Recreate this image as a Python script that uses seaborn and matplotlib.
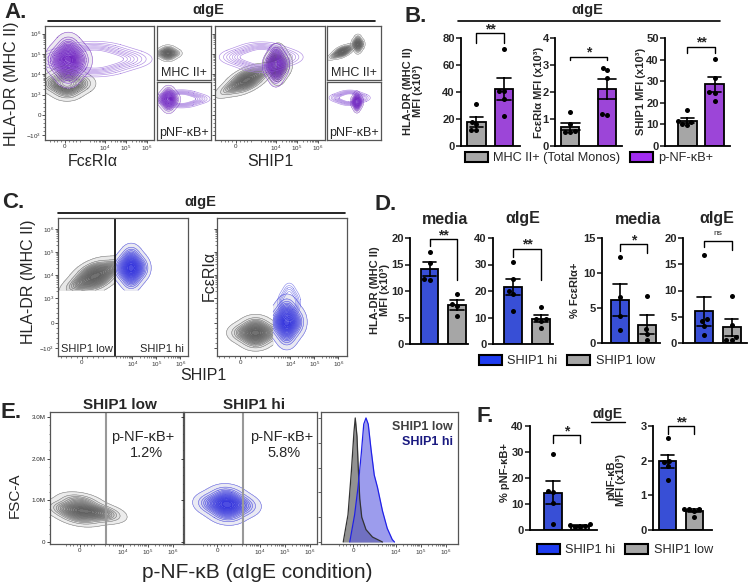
import numpy as np
import pandas as pd
import matplotlib
matplotlib.use("Agg")
import matplotlib.pyplot as plt
from matplotlib.patches import Patch
import seaborn as sns

# --- CONFIGURATION ---
W, H = 750, 583
GRAY_BAR = "#a6a6a6"
PURPLE_BAR = "#a12cf0"
BLUE_BAR = "#1e3cf0"
FLOW_GRAY = "#5f5f5f"
FLOW_PURPLE = "#6f22c0"
FLOW_BLUE = "#3535dd"
HALO_PURPLE = "#a77fe0"

# --- bar data (one list per group) ---
B_GROUPS = ["MHC II+ (Total Monos)", "p-NF-\u03baB+"]
B_HLA = [[31, 18, 16, 12, 12], [71.5, 41, 41, 35, 22]]
B_FCER = [[1.25, 0.8, 0.55, 0.5, 0.5], [2.9, 2.8, 2.5, 1.15, 1.2]]
B_SHIP = [[16.5, 11.5, 11, 10, 9.5], [40.5, 31.5, 24.5, 25, 21]]

D_GROUPS = ["SHIP1 hi", "SHIP1 low"]
D_HLA_MEDIA = [[17.3, 15.2, 12.2, 12.0], [9.5, 7.5, 7.2, 5.2]]
D_HLA_IGE = [[31, 24.5, 20, 19, 12.5], [14, 9.5, 9.3, 8.5, 6]]
D_FCER_MEDIA = [[12.3, 6.6, 3.8, 1.9], [6.7, 2.0, 1.3, 0.5]]
D_FCER_IGE = [[16.8, 4.5, 4.2, 3.3, 1.5], [8.9, 3.5, 1.2, 0.6, 0.6]]

F_PCT = [[29.3, 15, 14.5, 10.5, 2.3], [2.2, 2.0, 1.6, 1.2, 1.0]]
F_MFI = [[2.65, 2.0, 1.95, 1.85, 1.45], [0.62, 0.6, 0.6, 0.55, 0.38]]

# --- flow populations: anchor points in biexponential decade units ---
A1_GRAY_X = [0.1, -0.45, 0.65, 0.1, 0.1]
A1_GRAY_Y = [1.55, 1.55, 1.55, 1.2, 1.9]
A1_PURP_X = [0.16, -0.3, 0.62, 0.16, 0.16]
A1_PURP_Y = [2.7, 2.7, 2.7, 2.15, 3.25]
A1_HALO_X = [1.4, 0.3, 2.5, 1.4, 1.4]
A1_HALO_Y = [2.75, 2.75, 2.75, 2.4, 3.1]

A2_GRAY1_X = [0.5, -0.1, 1.1, 0.38, 0.62]
A2_GRAY1_Y = [1.72, 1.4, 2.04, 1.93, 1.51]
A2_GRAY2_X = [2.0, 1.72, 2.28, 2.0, 2.0]
A2_GRAY2_Y = [2.5, 2.5, 2.5, 2.08, 2.92]
A2_PURP_X = [1.9, 1.64, 2.16, 1.9, 1.9]
A2_PURP_Y = [2.45, 2.45, 2.45, 2.02, 2.88]
A2_HALO_X = [1.2, 0.4, 2.0, 1.2, 1.2]
A2_HALO_Y = [2.85, 2.85, 2.85, 2.55, 3.15]

C1_GRAY_X = [0.55, -0.1, 1.2, 0.4, 0.7]
C1_GRAY_Y = [2.05, 1.72, 2.38, 2.33, 1.77]
C1_BLUE_X = [2.05, 1.7, 2.4, 2.05, 2.05]
C1_BLUE_Y = [2.4, 2.4, 2.4, 1.95, 2.85]
C2_GRAY_X = [0.65, 0.15, 1.15, 0.65, 0.65]
C2_GRAY_Y = [-0.42, -0.42, -0.42, -0.75, -0.09]
C2_BLUE_X = [1.95, 1.6, 2.3, 1.95, 1.95]
C2_BLUE_Y = [0.05, 0.05, 0.05, -0.45, 0.55]
C2_TAIL_X = [2.05, 1.85, 2.25, 2.05, 2.05]
C2_TAIL_Y = [0.9, 0.9, 0.9, 0.55, 1.25]
C_GATE = 1.375
C_FLOOR = 1.43

E1_GRAY_X = [0.0, -0.5, 0.5, 0.0, 0.0, 0.9]
E1_GRAY_Y = [0.78, 0.78, 0.72, 0.6, 0.96, 0.68]
E2_BLUE_X = [0.4, -0.15, 0.95, 0.4, 0.4]
E2_BLUE_Y = [0.9, 0.92, 0.88, 0.7, 1.1]
E_GATE = 1.04

# histogram outlines (normalised to mode)
E3_LOW_X = [-0.39, -0.20, -0.065, 0.04, 0.09, 0.16, 0.21, 0.27, 0.35, 0.52, 0.78, 1.18]
E3_LOW_Y = [0, 0.22, 0.57, 0.89, 1.0, 0.85, 0.6, 0.35, 0.2, 0.1, 0.04, 0.0]
E3_HI_X = [-0.13, 0.065, 0.2, 0.33, 0.43, 0.52, 0.61, 0.72, 0.85, 0.98, 1.18, 1.37, 1.57, 1.66]
E3_HI_Y = [0, 0.22, 0.44, 0.71, 0.95, 1.0, 0.95, 0.75, 0.54, 0.44, 0.25, 0.11, 0.02, 0]

sns.set_style("white")
plt.rcParams["font.family"] = ["Liberation Sans", "DejaVu Sans"]
plt.rcParams["mathtext.fontset"] = "custom"
plt.rcParams["mathtext.rm"] = "Liberation Sans"
plt.rcParams["mathtext.it"] = "Liberation Sans"

fig = plt.figure(figsize=(7.5, 5.83), dpi=100)


def px_axes(x0, y0, x1, y1):
    return fig.add_axes([x0 / W, 1 - y1 / H, (x1 - x0) / W, (y1 - y0) / H])


def ftext(x, y, s, **kw):
    kw.setdefault("ha", "center")
    kw.setdefault("va", "center")
    return fig.text(x / W, 1 - y / H, s, **kw)


def hline(x0, x1, y, lw=1.2):
    fig.add_artist(plt.Line2D([x0 / W, x1 / W], [1 - y / H, 1 - y / H], color="black", lw=lw))


def dec(v, lin):
    # biexponential-like position: 10^3 sits at `lin`, then one unit per decade
    v = np.asarray(v, float)
    a = np.abs(v)
    out = np.where(a <= 1e3, a / 1e3 * lin, lin + np.log10(np.maximum(a, 1e3) / 1e3))
    return np.sign(v) * out


def minor_vals():
    vals = [m * 10.0 ** k for k in (3, 4, 5) for m in range(2, 10)]
    vals += [200, 400, 600, 800, -200, -400, -600, -800]
    return vals


def flow_frame(ax, xlim, ylim):
    ax.set_xlim(xlim)
    ax.set_ylim(ylim)
    ax.set_xlabel("")
    ax.set_ylabel("")
    ax.set_xticks([])
    ax.set_yticks([])
    for s in ax.spines.values():
        s.set_color("#555555")
        s.set_linewidth(0.9)
        s.set_visible(True)


def log_axis(ax, axis, lin, labels=True):
    major = [0, 1e4, 1e5, 1e6]
    lab = ["0", "$10^4$", "$10^5$", "$10^6$"]
    if axis == "y":
        major = [-1e3, 0, 1e3, 1e4, 1e5, 1e6]
        lab = ["$-10^3$", "0", "$10^3$", "$10^4$", "$10^5$", "$10^6$"]
    pos = dec(major, lin)
    mpos = dec(minor_vals(), lin)
    if axis == "x":
        ax.set_xticks(pos)
        ax.set_xticklabels(lab if labels else [])
        ax.set_xticks(mpos, minor=True)
    else:
        ax.set_yticks(pos)
        ax.set_yticklabels(lab if labels else [])
        ax.set_yticks(mpos, minor=True)
    ax.tick_params(axis=axis, which="major", length=2.2, width=0.6, labelsize=4.5, pad=0.8, colors="#333333",
                   direction="out", bottom=True, left=True)
    ax.tick_params(axis=axis, which="minor", length=1.2, width=0.4, direction="out", bottom=True, left=True)


def blob(ax, xs, ys, color, clip=None, levels=14, bw=1.2, lw=0.4, fill=True, line_alpha=0.75):
    # filled density plus contour lines, like a FlowJo contour plot
    if fill:
        sns.kdeplot(x=xs, y=ys, ax=ax, levels=levels, thresh=0.02, bw_adjust=bw, clip=clip, fill=True,
                    cmap=sns.light_palette(color, as_cmap=True), alpha=0.9, gridsize=150)
    sns.kdeplot(x=xs, y=ys, ax=ax, levels=levels, thresh=0.02, bw_adjust=bw, clip=clip,
                colors=[color], linewidths=lw, alpha=line_alpha, gridsize=150)


HALO_LEVELS = [0.02, 0.05, 0.09, 0.14, 0.2, 0.27, 0.35, 0.45]


def halo(ax, xs, ys, clip=None, color=HALO_PURPLE, levels=HALO_LEVELS):
    blob(ax, xs, ys, color, clip=clip, levels=levels, fill=False, lw=0.45, line_alpha=0.9)


# ================= PANEL A =================
ftext(4, 13, "A.", fontsize=16, fontweight="bold", ha="left")
ftext(208, 10, "\u03b1IgE", fontsize=10.5, fontweight="bold")
hline(48, 375, 21)
A_XLIM1, A_XLIM2, A_YLIM = (-0.95, 4.24), (-1.0, 4.24), (-1.23, 4.38)
A_LINX, A_LINY = 0.9, 1.0

ax = px_axes(45, 26, 154, 140)
blob(ax, A1_GRAY_X, A1_GRAY_Y, FLOW_GRAY)
halo(ax, A1_HALO_X, A1_HALO_Y)
blob(ax, A1_PURP_X, A1_PURP_Y, FLOW_PURPLE, levels=16)
flow_frame(ax, A_XLIM1, A_YLIM)
log_axis(ax, "x", A_LINX)
log_axis(ax, "y", A_LINY)

ax = px_axes(157, 26, 211, 80)
blob(ax, A1_GRAY_X, A1_GRAY_Y, FLOW_GRAY, lw=0.3)
flow_frame(ax, A_XLIM1, A_YLIM)
ax.text(0.5, 0.02, "MHC II+", transform=ax.transAxes, ha="center", va="bottom", fontsize=9)
ax = px_axes(157, 82, 211, 140)
halo(ax, A1_HALO_X, A1_HALO_Y)
blob(ax, A1_PURP_X, A1_PURP_Y, FLOW_PURPLE, levels=16, lw=0.3)
flow_frame(ax, A_XLIM1, A_YLIM)
ax.text(0.5, 0.02, "pNF-\u03baB+", transform=ax.transAxes, ha="center", va="bottom", fontsize=9)

ax = px_axes(215, 26, 325, 140)
blob(ax, A2_GRAY1_X, A2_GRAY1_Y, FLOW_GRAY)
blob(ax, A2_GRAY2_X, A2_GRAY2_Y, FLOW_GRAY)
halo(ax, A2_HALO_X, A2_HALO_Y)
blob(ax, A2_PURP_X, A2_PURP_Y, FLOW_PURPLE, levels=16)
flow_frame(ax, A_XLIM2, A_YLIM)
log_axis(ax, "x", A_LINX)
log_axis(ax, "y", A_LINY, labels=False)

ax = px_axes(327, 26, 381, 80)
blob(ax, A2_GRAY1_X, A2_GRAY1_Y, FLOW_GRAY, lw=0.3)
blob(ax, A2_GRAY2_X, A2_GRAY2_Y, FLOW_GRAY, lw=0.3)
flow_frame(ax, A_XLIM2, A_YLIM)
ax.text(0.5, 0.02, "MHC II+", transform=ax.transAxes, ha="center", va="bottom", fontsize=9)
ax = px_axes(327, 82, 381, 140)
halo(ax, A2_HALO_X, A2_HALO_Y)
blob(ax, A2_PURP_X, A2_PURP_Y, FLOW_PURPLE, levels=16, lw=0.3)
flow_frame(ax, A_XLIM2, A_YLIM)
ax.text(0.5, 0.02, "pNF-\u03baB+", transform=ax.transAxes, ha="center", va="bottom", fontsize=9)

ftext(12, 84, "HLA-DR (MHC II)", fontsize=11.5, rotation=90)
ftext(93, 166, "Fc\u03b5RI\u03b1", fontsize=11.5, va="baseline")
ftext(270, 166, "SHIP1", fontsize=11.5, va="baseline")


# ================= bar helper =================
def bar_panel(rect, values, groups, colors, top, step, xlim, width, bracket, ylabel=None, ylabel_xy=None):
    ax = px_axes(*rect)
    df = pd.DataFrame({"group": np.repeat(groups, [len(v) for v in values]),
                       "val": np.concatenate(values)})
    sns.barplot(data=df, x="group", y="val", hue="group", order=groups, hue_order=groups,
                palette=colors, errorbar="se", capsize=0.5, width=width, edgecolor="black",
                linewidth=1.3, err_kws={"color": "black", "linewidth": 1.2}, legend=False, ax=ax)
    sns.swarmplot(data=df, x="group", y="val", order=groups, color="black", size=3.6, ax=ax)
    ax.set_xlim(xlim)
    ax.set_ylim(0, top)
    ticks = np.arange(0, top + step / 2, step)
    ax.set_yticks(ticks)
    ax.set_yticklabels([f"{t:g}" for t in ticks], fontweight="bold")
    ax.set_xticks([])
    ax.set_xlabel("")
    ax.set_ylabel("")
    sns.despine(ax=ax)
    for s in ("left", "bottom"):
        ax.spines[s].set_linewidth(1.3)
        ax.spines[s].set_color("black")
    ax.tick_params(axis="y", length=3.5, width=1.2, labelsize=8, pad=1, left=True, direction="out")
    for c in ax.collections:
        c.set_clip_on(False)
    # significance bracket
    ytop, ldrop, rdrop, label = bracket
    ax.plot([0, 0, 1, 1], [ldrop, ytop, ytop, rdrop], color="black", lw=1.0, clip_on=False)
    if label == "ns":
        ax.text(0.5, ytop + top * 0.03, label, ha="center", va="bottom", fontsize=6)
    else:
        ax.text(0.5, ytop - top * 0.03, label, ha="center", va="bottom", fontsize=10, fontweight="bold")
    if ylabel:
        ftext(*ylabel_xy, ylabel, fontsize=8, fontweight="bold", rotation=90, linespacing=1.0)
    return ax


def legend_at(x, y, colors, groups):
    fig.legend(handles=[Patch(facecolor=c, edgecolor="black", linewidth=1.5, label=g) for c, g in zip(colors, groups)],
               loc="center left", bbox_to_anchor=(x / W, 1 - y / H), ncol=2, frameon=False, fontsize=9.2,
               handlelength=1.8, handleheight=0.9, handletextpad=0.4, columnspacing=0.8, borderpad=0,
               borderaxespad=0)


# ================= PANEL B =================
ftext(405, 17, "B.", fontsize=16, fontweight="bold", ha="left")
ftext(587, 10, "\u03b1IgE", fontsize=10.5, fontweight="bold")
hline(458, 720, 21)
BCOL = [GRAY_BAR, PURPLE_BAR]
bar_panel((461, 38, 520, 146), B_HLA, B_GROUPS, BCOL, 80, 20, (-0.56, 1.58), 0.68,
          (83.5, 76, 76, "**"), "HLA-DR (MHC II)\nMFI (x10\u00b3)", (413, 91))
bar_panel((555, 38, 622, 146), B_FCER, B_GROUPS, BCOL, 4, 1, (-0.42, 1.41), 0.49,
          (3.31, 3.18, 3.18, "*"), "Fc\u03b5RI\u03b1 MFI (x10\u00b3)", (539, 92))
bar_panel((665, 38, 730, 146), B_SHIP, B_GROUPS, BCOL, 50, 10, (-0.83, 1.57), 0.68,
          (46, 43.2, 43.2, "**"), "SHIP1 MFI (x10\u00b3)", (641, 91))
legend_at(465, 158, BCOL, B_GROUPS)

# ================= PANEL C =================
ftext(2, 203, "C.", fontsize=16, fontweight="bold", ha="left")
ftext(200, 202, "\u03b1IgE", fontsize=10.5, fontweight="bold")
hline(58, 345, 213)
C_LINX, C_LINY = 1.1, 1.1
C_YLIM = (-1.43, 4.57)

ax = px_axes(58, 218, 188, 356)
blob(ax, C1_GRAY_X, C1_GRAY_Y, FLOW_GRAY, clip=((-5, C_GATE), (C_FLOOR, 8)), levels=16)
blob(ax, C1_BLUE_X, C1_BLUE_Y, FLOW_BLUE, clip=((C_GATE, 8), (C_FLOOR, 8)), levels=16)
flow_frame(ax, (-1.0, 4.42), C_YLIM)
ax.axvline(C_GATE, color="black", lw=1.2)
log_axis(ax, "x", C_LINX)
log_axis(ax, "y", C_LINY)
ax.text(0.02, 0.015, "SHIP1 low", transform=ax.transAxes, ha="left", va="bottom", fontsize=8)
ax.text(0.97, 0.015, "SHIP1 hi", transform=ax.transAxes, ha="right", va="bottom", fontsize=8)

ax = px_axes(217, 218, 347, 356)
blob(ax, C2_GRAY_X, C2_GRAY_Y, FLOW_GRAY, clip=((-5, C_GATE), (-8, 8)), levels=16)
halo(ax, C2_TAIL_X, C2_TAIL_Y, clip=((C_GATE, 8), (-8, 8)), color="#8080ea",
     levels=[0.03, 0.08, 0.15, 0.25, 0.4])
blob(ax, C2_BLUE_X, C2_BLUE_Y, FLOW_BLUE, clip=((C_GATE, 8), (-8, 8)), levels=16)
flow_frame(ax, (-0.96, 4.46), C_YLIM)
log_axis(ax, "x", C_LINX)
log_axis(ax, "y", C_LINY, labels=False)

ftext(28, 282, "HLA-DR (MHC II)", fontsize=11.5, rotation=90)
ftext(209, 276, "Fc\u03b5RI\u03b1", fontsize=11.5, rotation=90)
ftext(203, 376, "SHIP1", fontsize=11.5)

# ================= PANEL D =================
ftext(375, 205, "D.", fontsize=16, fontweight="bold", ha="left")
DCOL = [BLUE_BAR, GRAY_BAR]
bar_panel((410, 238, 468, 344), D_HLA_MEDIA, D_GROUPS, DCOL, 20, 5, (-0.71, 1.4), 0.65,
          (19.8, 18.4, 12, "**"), "HLA-DR (MHC II)\nMFI (x10\u00b3)", (380, 290))
bar_panel((493, 238, 553, 344), D_HLA_IGE, D_GROUPS, DCOL, 40, 10, (-0.73, 1.43), 0.65,
          (36, 33, 24, "**"))
bar_panel((602, 238, 660, 343), D_FCER_MEDIA, D_GROUPS, DCOL, 15, 5, (-0.65, 1.47), 0.65,
          (14.1, 13.2, 12.9, "*"), "% Fc\u03b5RI\u03b1+", (575, 290))
bar_panel((683, 238, 747, 343), D_FCER_IGE, D_GROUPS, DCOL, 20, 5, (-0.76, 1.56), 0.65,
          (19.5, 18.2, 17.8, "ns"))
for x, t in [(445, "media"), (523, "\u03b1IgE"), (638, "media"), (717, "\u03b1IgE")]:
    ftext(x, 219, t, fontsize=11.5, fontweight="bold")
legend_at(479, 361, DCOL, D_GROUPS)

# ================= PANEL E =================
ftext(1, 412, "E.", fontsize=16, fontweight="bold", ha="left")
E_LIN = 0.7
E_YLIM = (-0.05, 3.12)

for rect, xlim, xs, ys, col, title, pct, first in [
        ((50, 412, 183, 544), (-1.2, 4.12), E1_GRAY_X, E1_GRAY_Y, FLOW_GRAY, "SHIP1 low", "1.2%", True),
        ((184, 412, 317, 544), (-1.32, 4.0), E2_BLUE_X, E2_BLUE_Y, FLOW_BLUE, "SHIP1 hi", "5.8%", False)]:
    ax = px_axes(*rect)
    blob(ax, xs, ys, col, levels=16)
    flow_frame(ax, xlim, E_YLIM)
    ax.axvline(E_GATE, color="#999999", lw=1.5)
    log_axis(ax, "x", E_LIN)
    ax.set_yticks([0, 1, 2, 3])
    ax.set_yticks(np.arange(0, 3.01, 0.2), minor=True)
    ax.set_yticklabels(["0", "1.0M", "2.0M", "3.0M"] if first else [])
    ax.tick_params(axis="y", which="major", length=2.2, width=0.6, labelsize=4.5, pad=1.2, left=True)
    ax.tick_params(axis="y", which="minor", length=1.0, width=0.4, left=True)
    x0 = rect[0]
    ftext(x0 + 70, 405, title, fontsize=11, fontweight="bold")
    ftext(x0 + (93 if first else 98), 437, "p-NF-\u03baB+", fontsize=10.5)
    ftext(x0 + (96 if first else 100), 453, pct, fontsize=10.5)

ax = px_axes(321, 412, 458, 544)
ax.fill_between(E3_LOW_X, E3_LOW_Y, color="#8c8c8c", alpha=0.95, lw=0)
ax.plot(E3_LOW_X, E3_LOW_Y, color="#333333", lw=0.9)
ax.fill_between(E3_HI_X, E3_HI_Y, color="#5a5ae2", alpha=0.6, lw=0)
ax.plot(E3_HI_X, E3_HI_Y, color="#2020e8", lw=0.9)
flow_frame(ax, (-1.28, 4.2), (-0.016, 1.048))
log_axis(ax, "x", E_LIN)
ax.set_yticks(np.linspace(0, 1, 6))
ax.set_yticklabels([])
ax.tick_params(axis="y", length=2.0, width=0.5, left=True)
ftext(453, 427, "SHIP1 low", fontsize=9, fontweight="bold", color="#404040", ha="right")
ftext(453, 442, "SHIP1 hi", fontsize=9, fontweight="bold", color="#1a1a80", ha="right")

ftext(15, 495, "FSC-A", fontsize=11, rotation=90)
ftext(257, 573, "p-NF-\u03baB (\u03b1IgE condition)", fontsize=15)

# ================= PANEL F =================
ftext(476, 416, "F.", fontsize=16, fontweight="bold", ha="left")
ftext(608, 414, "\u03b1IgE", fontsize=10, fontweight="bold")
hline(591, 625, 422, lw=1.0)
bar_panel((530, 426, 597, 530), F_PCT, D_GROUPS, DCOL, 40, 10, (-0.85, 1.63), 0.65,
          (36.5, 33.6, 33.6, "*"), "% pNF-\u03baB+", (505, 473))
bar_panel((653, 426, 712, 530), F_MFI, D_GROUPS, DCOL, 3, 1, (-0.55, 1.66), 0.65,
          (3.0, 2.77, 2.77, "**"), "pNF-\u03baB\nMFI (x10\u00b3)", (616, 480))
legend_at(537, 550, DCOL, D_GROUPS)

fig.savefig("out.png", dpi=100)
